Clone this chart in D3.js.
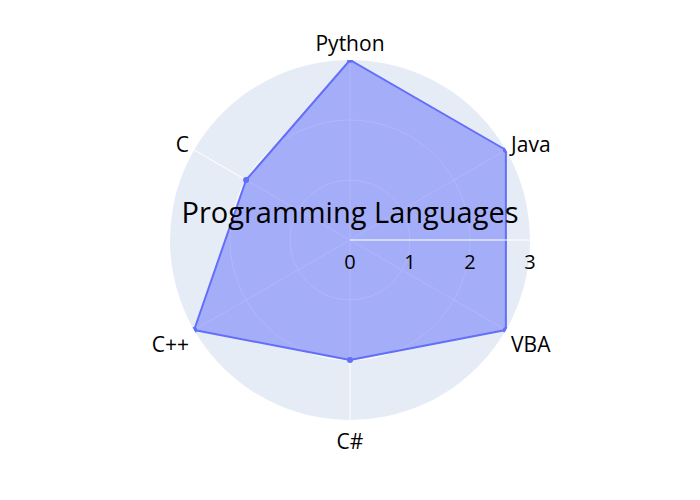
<!DOCTYPE html>
<html><head><meta charset="utf-8">
<script src="https://cdn.jsdelivr.net/npm/d3@7"></script>
<style>body{margin:0;background:#fff}svg{display:block}text{font-family:"Open Sans",sans-serif}</style>
</head><body><svg id="c" width="700" height="500"></svg>
<script>
const categories = ["Python","Java","VBA","C#","C++","C"];
const values = [3,3,3,2,3,2];
const radialTicks = [0,1,2,3];
const titleText = "Programming Languages";

const svg = d3.select("#c");
const cx = 350, cy = 240, R = 180;
const r = d3.scaleLinear().domain([0,3]).range([0,R]);
// angle in radians measured clockwise from top
const ang = d3.scalePoint().domain(categories.concat(["__end"])).range([0, 2*Math.PI]);
const pt = (a, rad) => [cx + rad*Math.sin(a), cy - rad*Math.cos(a)];

const g = svg.append("g");
g.append("circle").attr("cx",cx).attr("cy",cy).attr("r",R).attr("fill","#E5ECF6");
// circular grid
g.selectAll("circle.grid").data(radialTicks.filter(t=>t>0 && t<3)).enter().append("circle")
  .attr("class","grid").attr("cx",cx).attr("cy",cy).attr("r",d=>r(d))
  .attr("fill","none").attr("stroke","#fff").attr("stroke-width",1);
// spokes
g.selectAll("line.spoke").data(categories).enter().append("line")
  .attr("x1",cx).attr("y1",cy)
  .attr("x2",d=>pt(ang(d),R)[0]).attr("y2",d=>pt(ang(d),R)[1])
  .attr("stroke","#fff").attr("stroke-width",1);

svg.append("defs").append("clipPath").attr("id","clip").append("circle")
  .attr("cx",cx).attr("cy",cy).attr("r",R);

const line = d3.lineRadial().angle((d,i)=>ang(categories[i])).radius(d=>r(d)).curve(d3.curveLinearClosed);
const tg = svg.append("g").attr("clip-path","url(#clip)");
tg.append("path").attr("transform",`translate(${cx},${cy})`).attr("d",line(values))
  .attr("fill","rgba(99,110,250,0.5)").attr("stroke","#636efa").attr("stroke-width",2).attr("stroke-linejoin","round");
tg.selectAll("circle.pt").data(values).enter().append("circle")
  .attr("cx",(d,i)=>pt(ang(categories[i]),r(d))[0]).attr("cy",(d,i)=>pt(ang(categories[i]),r(d))[1])
  .attr("r",3).attr("fill","#636efa");

// radial axis (above traces)
svg.append("line").attr("x1",cx).attr("y1",cy).attr("x2",cx+R).attr("y2",cy)
  .attr("stroke","#fff").attr("stroke-opacity",0.7).attr("stroke-width",1.5);
svg.selectAll("text.rt").data(radialTicks).enter().append("text")
  .attr("x",d=>cx+r(d)).attr("y",cy+29).attr("text-anchor","middle")
  .attr("font-size",20).attr("fill","#000").text(d=>d);

// angular labels
svg.selectAll("text.cat").data(categories).enter().append("text")
  .attr("x",d=>pt(ang(d),R+6)[0]).attr("y",d=>pt(ang(d),R+6)[1])
  .attr("text-anchor",d=>{const s=Math.sin(ang(d)); return Math.abs(s)<0.01?"middle":(s>0?"start":"end");})
  .attr("dy",d=>{const c=Math.cos(ang(d));
    if (c>0.99) return -3; if (c<-0.99) return 23; return c>0 ? 4.5 : 19;})
  .attr("font-size",21).attr("fill","#000").text(d=>d);

svg.append("text").attr("x",cx).attr("y",cy-17).attr("text-anchor","middle")
  .attr("font-size",29).attr("fill","#000").text(titleText);
</script></body></html>
